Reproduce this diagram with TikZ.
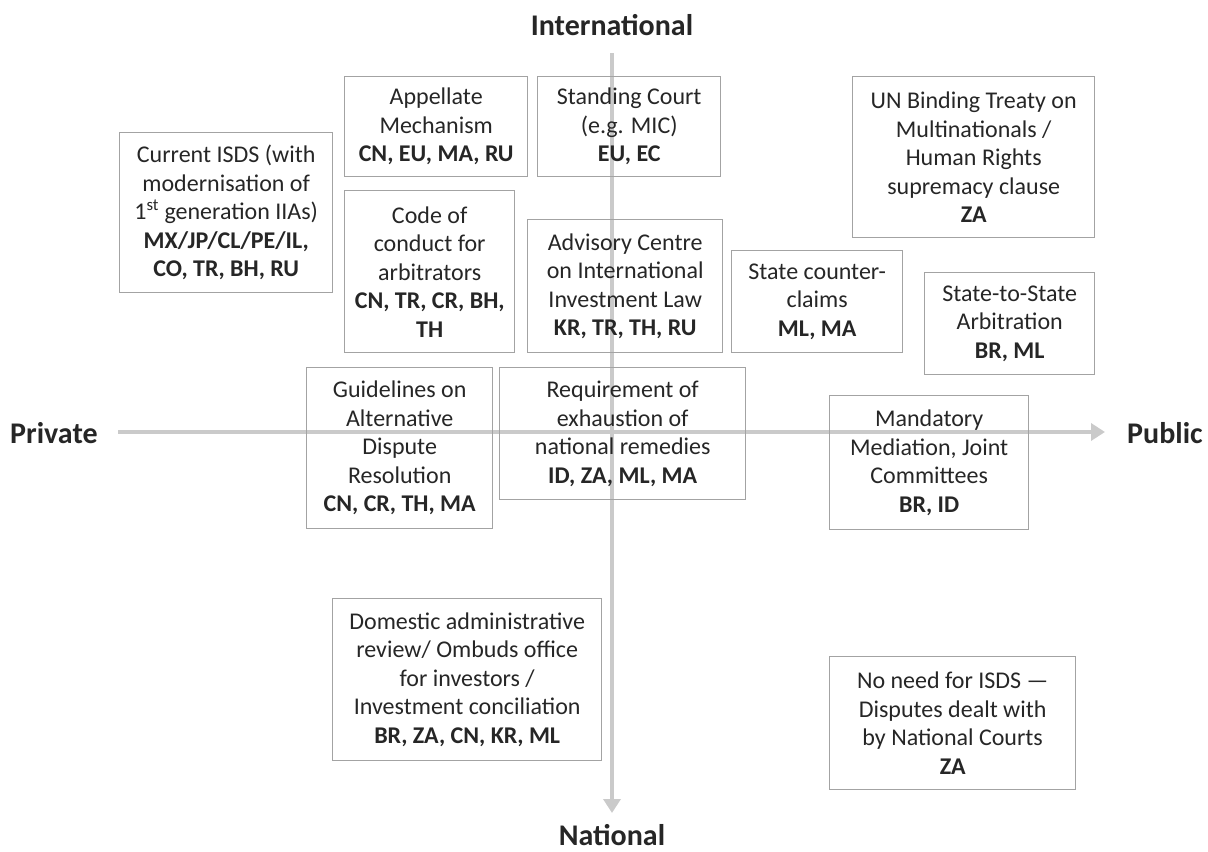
\documentclass[tikz,border=0pt]{standalone}
\usepackage{fontspec}
\setmainfont{Carlito}
\usetikzlibrary{arrows.meta,positioning}
\definecolor{boxgray}{HTML}{A3A3A3}
\definecolor{axisgray}{HTML}{CACACA}
\definecolor{txtgray}{HTML}{262626}
\tikzstyle{optbox} = [draw=boxgray, line width=1.4bp, anchor=north west, align=center, inner sep=2bp, text=txtgray, font=\fontsize{24bp}{28.5bp}\selectfont]
\tikzstyle{axis} = [line width=4.5bp, draw=axisgray, fill=axisgray, -{Triangle[length=14bp,width=17bp]}]
\tikzstyle{axlabel} = [text=txtgray, inner sep=0pt, font=\fontsize{30bp}{34bp}\selectfont\bfseries]
\begin{document}
\begin{tikzpicture}[x=1bp,y=-1bp]
	\useasboundingbox (0,0) rectangle (1208,852);
	% axes
	\coordinate (hstart) at (118,432);
	\coordinate (hend) at (1105,432);
	\coordinate (vstart) at (612,53);
	\coordinate (vend) at (612,813);
	\draw[axis] (hstart) -- (hend);
	\draw[axis] (vstart) -- (vend);
	\node (intl) at (612,35) [axlabel, anchor=base] {International};
	\node (natl) at (612,845) [axlabel, anchor=base] {National};
	\node (priv) at (10,443) [axlabel, anchor=base west] {Private};
	\node (publ) at (1127,443) [axlabel, anchor=base west] {Public};
	
	% options
	\node (appellate) at (344,76) [optbox, minimum width=183bp, minimum height=100bp] {Appellate\\Mechanism\\\textbf{CN, EU, MA, RU}};
	\node (standing) at (537,76) [optbox, minimum width=183bp, minimum height=100bp] {Standing Court\\(e.g. MIC)\\\textbf{EU, EC}};
	\node (untreaty) at (852,76) [optbox, minimum width=242bp, minimum height=161bp] {UN Binding Treaty on\\Multinationals /\\Human Rights\\supremacy clause\\\textbf{ZA}};
	\node (isds) at (119,132) [optbox, minimum width=213bp, minimum height=160bp] {Current ISDS (with\\modernisation of\\1\textsuperscript{st} generation IIAs)\\\textbf{MX/JP/CL/PE/IL,}\\\textbf{CO, TR, BH, RU}};
	\node (conduct) at (344,190) [optbox, minimum width=170bp, minimum height=162bp] {Code of\\conduct for\\arbitrators\\\textbf{CN, TR, CR, BH,}\\\textbf{TH}};
	\node (advisory) at (527,219) [optbox, minimum width=195bp, minimum height=133bp] {Advisory Centre\\on International\\Investment Law\\\textbf{KR, TR, TH, RU}};
	\node (counter) at (731,250) [optbox, minimum width=171bp, minimum height=102bp] {State counter-\\claims\\\textbf{ML, MA}};
	\node (s2s) at (924,272) [optbox, minimum width=170bp, minimum height=102bp] {State-to-State\\Arbitration\\\textbf{BR, ML}};
	\node (guide) at (306,367) [optbox, minimum width=186bp, minimum height=161bp] {Guidelines on\\Alternative\\Dispute\\Resolution\\\textbf{CN, CR, TH, MA}};
	\node (exhaust) at (499,367) [optbox, minimum width=246bp, minimum height=132bp] {Requirement of\\exhaustion of\\national remedies\\\textbf{ID, ZA, ML, MA}};
	\node (mediation) at (829,395) [optbox, minimum width=199bp, minimum height=134bp] {Mandatory\\Mediation, Joint\\Committees\\\textbf{BR, ID}};
	\node (domestic) at (332,598) [optbox, minimum width=269bp, minimum height=162bp] {Domestic administrative\\review/ Ombuds office\\for investors /\\Investment conciliation\\\textbf{BR, ZA, CN, KR, ML}};
	\node (courts) at (829,656) [optbox, minimum width=246bp, minimum height=133bp] {No need for ISDS —\\Disputes dealt with\\by National Courts\\\textbf{ZA}};
\end{tikzpicture}
\end{document}
